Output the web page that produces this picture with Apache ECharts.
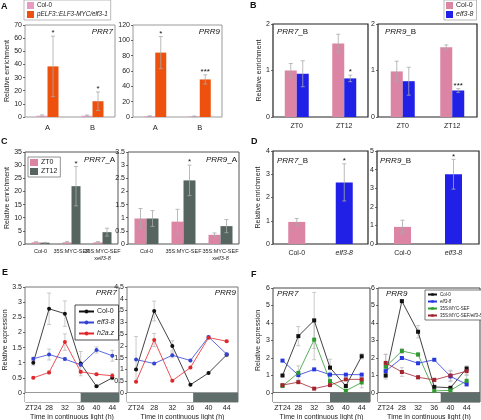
<!DOCTYPE html>
<html><head><meta charset="utf-8">
<script src="https://cdn.jsdelivr.net/npm/echarts@6/dist/echarts.min.js"></script>
<style>html,body{margin:0;padding:0;background:#fff}#c{width:481px;height:420px}</style>
</head><body><div id="c"></div>
<script>
// ================= DATA =================
// Panel A
const catsA = ['A', 'B'];
const aPRR7Col = [1.0, 1.0];
const aPRR7ColErr = [0.6, 0.5];
const aPRR7Elf = [38.5, 12.0];
const aPRR7ElfErr = [23, 7];
const aPRR7Stars = ['*', '*'];
const aPRR9Col = [1.0, 0.8];
const aPRR9ColErr = [0.6, 0.5];
const aPRR9Elf = [84, 49];
const aPRR9ElfErr = [21, 6];
const aPRR9Stars = ['*', '***'];
// Panel B
const catsB = ['ZT0', 'ZT12'];
const bPRR7Col = [1.0, 1.58];
const bPRR7ColErr = [0.15, 0.2];
const bPRR7Elf = [0.93, 0.83];
const bPRR7ElfErr = [0.28, 0.07];
const bPRR7Stars = ['', '*'];
const bPRR9Col = [0.98, 1.5];
const bPRR9ColErr = [0.22, 0.05];
const bPRR9Elf = [0.77, 0.57];
const bPRR9ElfErr = [0.3, 0.04];
const bPRR9Stars = ['', '***'];
// Panel C
const catsC = ['Col-0', '35S:MYC-SEF', '35S:MYC-SEF\nxelf3-8'];
const cPRR7ZT0 = [0.6, 0.6, 0.6];
const cPRR7ZT0Err = [0.3, 0.3, 0.3];
const cPRR7ZT12 = [0.5, 22, 4.5];
const cPRR7ZT12Err = [0.1, 7.5, 1.5];
const cPRR7Stars = ['', '*', ''];
const cPRR9ZT0 = [0.97, 0.85, 0.35];
const cPRR9ZT0Err = [0.38, 0.47, 0.07];
const cPRR9ZT12 = [0.97, 2.42, 0.68];
const cPRR9ZT12Err = [0.3, 0.58, 0.25];
const cPRR9Stars = ['', '*', ''];
// Panel D
const catsD = ['Col-0', 'elf3-8'];
const dPRR7 = [0.95, 2.65];
const dPRR7Err = [0.15, 0.8];
const dPRR7Stars = ['', '*'];
const dPRR9 = [0.92, 3.75];
const dPRR9Err = [0.36, 0.8];
const dPRR9Stars = ['', '*'];
// Panel E / F  (time in continuous light, h)
const hours = [24, 28, 32, 36, 40, 44];
const hourTicks = [24, 28, 32, 36, 40, 44];
const ePRR7Col = [1.0, 2.78, 2.62, 0.97, 0.22, 0.5];
const ePRR7ColErr = [0.08, 0.52, 0.42, 0.4, 0.03, 0.06];
const ePRR7Elf = [1.13, 1.27, 1.12, 0.93, 1.42, 1.23];
const ePRR7ElfErr = [0.05, 0.18, 0.05, 0.05, 0.1, 0.18];
const ePRR7H2az = [0.5, 0.68, 1.68, 0.7, 0.62, 0.57];
const ePRR7H2azErr = [0.03, 0.05, 0.27, 0.05, 0.03, 0.08];
const ePRR9Col = [1.0, 3.48, 2.0, 0.35, 0.85, 1.62];
const ePRR9ColErr = [0.05, 0.42, 0.22, 0.03, 0.03, 0.05];
const ePRR9Elf = [1.42, 1.25, 1.6, 1.38, 2.38, 1.65];
const ePRR9ElfErr = [0.98, 0.05, 0.1, 0.05, 0.05, 0.05];
const ePRR9H2az = [0.48, 2.25, 0.52, 1.08, 2.35, 2.2];
const ePRR9H2azErr = [0.03, 0.28, 0.03, 0.05, 0.05, 0.05];
const fPRR7Col = [1.0, 3.25, 4.15, 1.45, 0.4, 2.1];
const fPRR7ColErr = [0.05, 0.55, 1.6, 0.48, 0.1, 0.15];
const fPRR7Elf = [1.85, 1.02, 1.35, 1.05, 1.05, 1.05];
const fPRR7ElfErr = [0.05, 0.05, 0.05, 0.05, 0.05, 0.05];
const fPRR7Sef = [0.4, 1.15, 3.05, 0.68, 0.13, 0.6];
const fPRR7SefErr = [0.1, 0.4, 1.15, 0.3, 0.05, 0.3];
const fPRR7SefElf = [0.45, 0.62, 0.25, 0.45, 0.78, 0.78];
const fPRR7SefElfErr = [0.05, 0.05, 0.03, 0.05, 0.05, 0.05];
const fPRR9Col = [1.0, 5.25, 3.5, 0.35, 0.3, 1.4];
const fPRR9ColErr = [0.1, 0.05, 0.35, 0.05, 0.05, 0.15];
const fPRR9Elf = [1.25, 2.0, 1.7, 1.9, 0.95, 0.5];
const fPRR9ElfErr = [0.05, 0.05, 0.05, 0.05, 0.3, 0.1];
const fPRR9Sef = [1.5, 2.4, 2.2, 0.12, 0.15, 0.7];
const fPRR9SefErr = [0.7, 0.15, 0.1, 0.05, 0.05, 0.3];
const fPRR9SefElf = [1.72, 1.2, 0.9, 0.75, 1.0, 1.25];
const fPRR9SefElfErr = [0.5, 0.25, 0.1, 0.1, 0.3, 0.2];
// subjective dark start (h) of each light strip
const darkStartE7 = 36, darkStartE9 = 36.6, darkStartF7 = 36, darkStartF9 = 37.6;

// ================= BUILD =================
const FONT = '"Liberation Sans", Arial, sans-serif';
const grids = [], xAxes = [], yAxes = [], series = [], graphics = [];
const ERR = '#aaaaaa';

function addGrid(left, top, width, height, border, bw) {
  grids.push({left, top, width, height, show: true, borderColor: border, borderWidth: bw,
    backgroundColor: 'rgba(0,0,0,0)', containLabel: false, outerBoundsMode: 'none'});
  return grids.length - 1;
}
function markup(label) {
  return label.replace(/pELF3::ELF3-MYC\/elf3-1/, '{i|$&}').replace(/elf3-8|h2a\.z/, '{i|$&}');
}
function yAx(gi, min, max, interval, name, nameGap, show) {
  if (show === undefined) show = true;
  yAxes.push({gridIndex: gi, type: 'value', min, max, interval,
    axisLine: {show: false},
    axisTick: {show: show, length: 2, lineStyle: {color: '#444', width: 0.8}},
    axisLabel: {show: show, fontSize: 7, color: '#222', margin: 3},
    splitLine: {show: false},
    name: name || '', nameLocation: 'middle', nameGap: nameGap || 10,
    nameTextStyle: {fontSize: 7, color: '#222'}});
}
function xCat(gi, cats, fs, margin) {
  xAxes.push({gridIndex: gi, type: 'category', data: cats,
    axisLine: {show: false}, axisTick: {show: false}, splitLine: {show: false},
    axisLabel: {interval: 0, fontSize: fs, color: '#222', margin, lineHeight: fs + 1.5,
      formatter: v => v.split('\n').map(markup).join('\n'),
      rich: {i: {fontStyle: 'italic', fontSize: fs, lineHeight: fs + 1.5}}}});
}
function xVal(gi, min, max, labels, title) {
  xAxes.push({gridIndex: gi, type: 'value', min, max,
    axisLine: {show: false}, axisTick: {show: false}, splitLine: {show: false},
    axisLabel: {show: labels, customValues: hourTicks, fontSize: 7, color: '#222', margin: 3,
      formatter: v => (v === hourTicks[0] ? 'ZT' + v : String(v))},
    name: title || '', nameLocation: 'middle', nameGap: 12,
    nameTextStyle: {fontSize: 7, color: '#222'}});
}
function errCustom(ax, data, off, stars, color, z) {
  return {type: 'custom', xAxisIndex: ax, yAxisIndex: ax, silent: true, z: z || 10, data,
    renderItem(params, api) {
      const x = api.value(0), v = api.value(1), e = api.value(2);
      const p1 = api.coord([x, v + e]), p0 = api.coord([x, Math.max(0, v - e)]);
      const cx = p1[0] + off, cap = 2;
      const st = {stroke: color, lineWidth: 0.8};
      const ch = [
        {type: 'line', shape: {x1: cx, y1: p1[1], x2: cx, y2: p0[1]}, style: st},
        {type: 'line', shape: {x1: cx - cap, y1: p1[1], x2: cx + cap, y2: p1[1]}, style: st},
        {type: 'line', shape: {x1: cx - cap, y1: p0[1], x2: cx + cap, y2: p0[1]}, style: st}
      ];
      const s = stars && stars[params.dataIndex];
      if (s) ch.push({type: 'text', x: cx, y: p1[1] + 1,
        style: {text: s, fontSize: 8, fontFamily: FONT, fill: '#111', align: 'center', verticalAlign: 'bottom',
          textAlign: 'center', textVerticalAlign: 'bottom'}});
      return {type: 'group', children: ch};
    }};
}
function bars(ax, groups, bw) {
  const n = groups.length;
  groups.forEach((g, k) => {
    series.push({type: 'bar', name: g.name, xAxisIndex: ax, yAxisIndex: ax, data: g.vals,
      barWidth: bw, barGap: '0%', silent: true, itemStyle: {color: g.color}});
    const off = (k - (n - 1) / 2) * bw;
    series.push(errCustom(ax, g.vals.map((v, i) => [i, v, g.errs[i]]), off, g.stars, g.err || ERR));
  });
}
function singleBars(ax, vals, errs, stars, colors, bw) {
  series.push({type: 'bar', xAxisIndex: ax, yAxisIndex: ax, barWidth: bw, silent: true,
    data: vals.map((v, i) => ({value: v, itemStyle: {color: colors[i]}}))});
  series.push(errCustom(ax, vals.map((v, i) => [i, v, errs[i]]), 0, stars, ERR));
}
function lines(ax, groups, symbol, size) {
  groups.forEach(g => {
    series.push({type: 'line', name: g.name, xAxisIndex: ax, yAxisIndex: ax, silent: true, z: 5,
      data: hours.map((h, i) => [h, g.vals[i]]), symbol, symbolSize: size,
      itemStyle: {color: g.color}, lineStyle: {color: g.color, width: 0.8}});
    series.push(errCustom(ax, hours.map((h, i) => [h, g.vals[i], g.errs[i]]), 0, null, '#bdbdbd', 3));
  });
}
function strip(ax, xmin, xmax, dark) {
  series.push({type: 'custom', xAxisIndex: ax, yAxisIndex: ax, silent: true,
    data: [[xmin, dark, 0], [dark, xmax, 1]],
    renderItem(params, api) {
      const a = api.coord([api.value(0), 1]), b = api.coord([api.value(1), 0]);
      return {type: 'rect', shape: {x: a[0], y: a[1], width: b[0] - a[0], height: b[1] - a[1]},
        style: {fill: api.value(2) ? '#5f6e6a' : '#ffffff'}};
    }});
}
function label(text, left, top) {
  graphics.push({type: 'text', left, top, silent: true,
    style: {text, fontSize: 8, fontFamily: FONT, fill: '#111',
      rich: {i: {fontStyle: 'italic', fontSize: 8, fontFamily: FONT, fill: '#111'}}}});
}
function titleR(text, right, top) {
  graphics.push({type: 'text', right, top, silent: true,
    style: {text, fontSize: 8, fontFamily: FONT, fill: '#111',
      rich: {i: {fontStyle: 'italic', fontSize: 8, fontFamily: FONT, fill: '#111'}}}});
}

const PINK_A = '#e79bc2', PINK = '#db84a3', ORANGE = '#ee500d', BLUE = '#2020e6', DGRAY = '#56655f';

// ---- A ----
let g = addGrid(25, 25, 90, 92, '#9a9a9a', 1); xCat(g, catsA, 7.5, 6); yAx(g, 0, 70, 10, 'Relative enrichment', 14);
bars(g, [{name: 'A|Col-0', color: PINK_A, vals: aPRR7Col, errs: aPRR7ColErr},
         {name: 'A|pELF3::ELF3-MYC/elf3-1', color: ORANGE, vals: aPRR7Elf, errs: aPRR7ElfErr, stars: aPRR7Stars}], 11);
g = addGrid(133, 25, 89, 92, '#9a9a9a', 1); xCat(g, catsA, 7.5, 6); yAx(g, 0, 120, 20);
bars(g, [{name: 'A|Col-0', color: PINK_A, vals: aPRR9Col, errs: aPRR9ColErr},
         {name: 'A|pELF3::ELF3-MYC/elf3-1', color: ORANGE, vals: aPRR9Elf, errs: aPRR9ElfErr, stars: aPRR9Stars}], 11);
// ---- B ----
g = addGrid(273, 24, 95, 93, '#222', 1.2); xCat(g, catsB, 7, 5); yAx(g, 0, 2, 1, 'Relative enrichment', 9);
bars(g, [{name: 'B|Col-0', color: PINK, vals: bPRR7Col, errs: bPRR7ColErr},
         {name: 'B|elf3-8', color: BLUE, vals: bPRR7Elf, errs: bPRR7ElfErr, stars: bPRR7Stars}], 12);
g = addGrid(378, 24, 99, 93, '#222', 1.2); xCat(g, catsB, 7, 5); yAx(g, 0, 2, 1);
bars(g, [{name: 'B|Col-0', color: PINK, vals: bPRR9Col, errs: bPRR9ColErr},
         {name: 'B|elf3-8', color: BLUE, vals: bPRR9Elf, errs: bPRR9ElfErr, stars: bPRR9Stars}], 12);
// ---- C ----
g = addGrid(25, 152, 93, 92, '#555', 1); xCat(g, catsC, 5.5, 4); yAx(g, 0, 35, 5, 'Relative enrichment', 14);
bars(g, [{name: 'C|ZT0', color: PINK, vals: cPRR7ZT0, errs: cPRR7ZT0Err},
         {name: 'C|ZT12', color: DGRAY, vals: cPRR7ZT12, errs: cPRR7ZT12Err, stars: cPRR7Stars}], 9);
g = addGrid(128, 152, 111, 92, '#555', 1); xCat(g, catsC, 5.5, 4); yAx(g, 0, 3.5, 0.5);
bars(g, [{name: 'C|ZT0', color: PINK, vals: cPRR9ZT0, errs: cPRR9ZT0Err},
         {name: 'C|ZT12', color: DGRAY, vals: cPRR9ZT12, errs: cPRR9ZT12Err, stars: cPRR9Stars}], 12);
// ---- D ----
g = addGrid(273, 151, 95, 93, '#222', 1.2); xCat(g, catsD, 7, 5); yAx(g, 0, 4, 1, 'Relative enrichment', 11);
singleBars(g, dPRR7, dPRR7Err, dPRR7Stars, [PINK, BLUE], 17);
g = addGrid(377, 151, 102, 93, '#222', 1.2); xCat(g, catsD, 7, 5); yAx(g, 0, 5, 1);
singleBars(g, dPRR9, dPRR9Err, dPRR9Stars, [PINK, BLUE], 17);
// ---- E ----
const E_BLK = '#111', E_BLUE = '#3444d4', E_RED = '#e3262a';
g = addGrid(25, 287, 94, 106, '#777', 1); xVal(g, 21.9, 45.7, false); yAx(g, 0, 3.5, 0.5, 'Relative expression', 14);
lines(g, [{name: 'E|Col-0', color: E_BLK, vals: ePRR7Col, errs: ePRR7ColErr},
          {name: 'E|elf3-8', color: E_BLUE, vals: ePRR7Elf, errs: ePRR7ElfErr},
          {name: 'E|h2a.z', color: E_RED, vals: ePRR7H2az, errs: ePRR7H2azErr}], 'circle', 4);
g = addGrid(25, 393, 94, 9, '#777', 1); xVal(g, 21.9, 45.7, true, 'Time in continuous light (h)'); yAx(g, 0, 1, 1, '', 0, false);
strip(g, 21.9, 45.7, darkStartE7);
g = addGrid(127, 287, 111, 106, '#777', 1); xVal(g, 22, 46.5, false); yAx(g, 0, 4.5, 0.5);
lines(g, [{name: 'E|Col-0', color: E_BLK, vals: ePRR9Col, errs: ePRR9ColErr},
          {name: 'E|elf3-8', color: E_BLUE, vals: ePRR9Elf, errs: ePRR9ElfErr},
          {name: 'E|h2a.z', color: E_RED, vals: ePRR9H2az, errs: ePRR9H2azErr}], 'circle', 4);
g = addGrid(127, 393, 111, 9, '#777', 1); xVal(g, 22, 46.5, true, 'Time in continuous light (h)'); yAx(g, 0, 1, 1, '', 0, false);
strip(g, 22, 46.5, darkStartE9);
// ---- F ----
const F_BLK = '#111', F_BLUE = '#2838e0', F_GRN = '#2f9a2f', F_RED = '#a3242e';
g = addGrid(273, 288, 97, 105, '#444', 1); xVal(g, 21.6, 46.1, false); yAx(g, 0, 6, 1, 'Relative expression', 11);
lines(g, [{name: 'F|Col-0', color: F_BLK, vals: fPRR7Col, errs: fPRR7ColErr},
          {name: 'F|elf3-8', color: F_BLUE, vals: fPRR7Elf, errs: fPRR7ElfErr},
          {name: 'F|35S:MYC-SEF', color: F_GRN, vals: fPRR7Sef, errs: fPRR7SefErr},
          {name: 'F|35S:MYC-SEF/elf3-8', color: F_RED, vals: fPRR7SefElf, errs: fPRR7SefElfErr}], 'rect', 4);
g = addGrid(273, 393, 97, 9, '#444', 1); xVal(g, 21.6, 46.1, true, 'Time in continuous light (h)'); yAx(g, 0, 1, 1, '', 0, false);
strip(g, 21.6, 46.1, darkStartF7);
g = addGrid(378, 288, 102, 105, '#444', 1); xVal(g, 22.1, 47.3, false); yAx(g, 0, 6, 1);
lines(g, [{name: 'F|Col-0', color: F_BLK, vals: fPRR9Col, errs: fPRR9ColErr},
          {name: 'F|elf3-8', color: F_BLUE, vals: fPRR9Elf, errs: fPRR9ElfErr},
          {name: 'F|35S:MYC-SEF', color: F_GRN, vals: fPRR9Sef, errs: fPRR9SefErr},
          {name: 'F|35S:MYC-SEF/elf3-8', color: F_RED, vals: fPRR9SefElf, errs: fPRR9SefElfErr}], 'rect', 4);
g = addGrid(378, 393, 102, 9, '#444', 1); xVal(g, 22.1, 47.3, true, 'Time in continuous light (h)'); yAx(g, 0, 1, 1, '', 0, false);
strip(g, 22.1, 47.3, darkStartF9);

// ---- legends ----
function legend(names, left, top, fs, iw, ih, gap, pad, icon, border) {
  const l = {data: names, left, top, orient: 'vertical', itemWidth: iw, itemHeight: ih, itemGap: gap,
    padding: pad, borderColor: border || '#999', borderWidth: 0.8, backgroundColor: '#fff', selectedMode: false,
    formatter: n => markup(n.split('|')[1]),
    textStyle: {fontSize: fs, color: '#222', padding: [0, 0, 0, -2], rich: {i: {fontStyle: 'italic', fontSize: fs}}}};
  if (icon) l.icon = icon;
  return l;
}
const legends = [
  legend(['A|Col-0', 'A|pELF3::ELF3-MYC/elf3-1'], 24, 0, 6.3, 7, 7, 2, [2, 3, 2, 3], 'rect', '#aaa'),
  legend(['B|Col-0', 'B|elf3-8'], 444, 0, 7, 7, 7, 2, [2, 3, 2, 2], 'rect', '#aaa'),
  legend(['C|ZT0', 'C|ZT12'], 28, 157, 7, 8, 7, 2, [2, 3, 2, 2], 'rect', '#777'),
  legend(['E|Col-0', 'E|elf3-8', 'E|h2a.z'], 75, 305, 7, 15, 5, 4, [3, 4, 3, 3], null, '#222'),
  legend(['F|Col-0', 'F|elf3-8', 'F|35S:MYC-SEF', 'F|35S:MYC-SEF/elf3-8'], 425, 290, 4.5, 9, 3, 2, [2, 2, 2, 2], null, '#555')
];

// ---- panel letters & titles ----
[['A', 1, 2], ['B', 250, 1], ['C', 1, 137], ['D', 251, 137], ['E', 2, 268], ['F', 251, 270]].forEach(p => {
  graphics.push({type: 'text', left: p[1], top: p[2], silent: true,
    style: {text: p[0], fontSize: 9, fontWeight: 'bold', fontFamily: FONT, fill: '#111'}});
});
titleR('{i|PRR7}', 481 - 113, 28);
titleR('{i|PRR9}', 481 - 220, 28);
label('{i|PRR7}_B', 277, 28);
label('{i|PRR9}_B', 385, 28);
titleR('{i|PRR7}_A', 481 - 115, 156);
titleR('{i|PRR9}_A', 481 - 237, 156);
label('{i|PRR7}_B', 277, 157);
label('{i|PRR9}_B', 380, 157);
titleR('{i|PRR7}', 481 - 117, 289);
titleR('{i|PRR9}', 481 - 236, 289);
label('{i|PRR7}', 277, 290);
label('{i|PRR9}', 386, 290);

const chart = echarts.init(document.getElementById('c'), null, {renderer: 'canvas'});
chart.setOption({animation: false, textStyle: {fontFamily: FONT, color: '#222'},
  grid: grids, xAxis: xAxes, yAxis: yAxes, series, legend: legends, graphic: graphics});
</script></body></html>
